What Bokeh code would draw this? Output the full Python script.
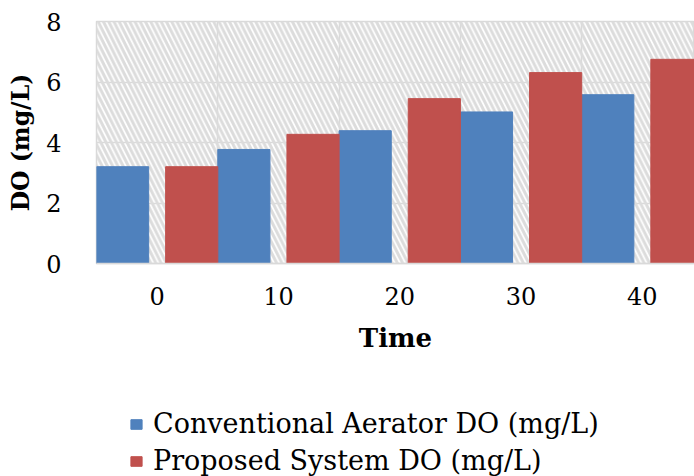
from bokeh.plotting import figure
from bokeh.layouts import column
from bokeh.models import (ColumnDataSource, Range1d, FixedTicker, BoxAnnotation,
                          Legend, LegendItem)
from bokeh.transform import dodge
from bokeh.embed import file_html
from bokeh.resources import INLINE

# ---- data ----
times = ["0", "10", "20", "30", "40"]
conventional = [3.2, 3.77, 4.39, 5.01, 5.58]
proposed = [3.2, 4.27, 5.45, 6.31, 6.75]
y_ticks = [0, 2, 4, 6, 8]
series_names = ["Conventional Aerator DO (mg/L)", "Proposed System DO (mg/L)"]
colors = ["#4f81bd", "#c0504d"]

idx = list(range(len(times)))
src = ColumnDataSource(dict(x=idx, conv=conventional, prop=proposed))

MAIN_H = 380
p = figure(width=694, height=MAIN_H, output_backend="svg", toolbar_location=None,
           x_range=Range1d(-0.5, 4.43), y_range=Range1d(0, 8),
           min_border_left=96, min_border_top=21, min_border_bottom=MAIN_H - 263,
           min_border_right=0)

# hatched plot area background
bg = BoxAnnotation(fill_alpha=0, line_alpha=0, hatch_pattern="left_diagonal_line",
                   hatch_color="#dcdcdc", hatch_scale=10.5, hatch_weight=3, level="underlay")
p.add_layout(bg)

p.vbar(x=dodge('x', -0.285), top='conv', width=0.43, source=src,
       fill_color=colors[0], line_color=colors[0])
p.vbar(x=dodge('x', 0.285), top='prop', width=0.43, source=src,
       fill_color=colors[1], line_color=colors[1])

# axes
p.xaxis.ticker = FixedTicker(ticks=idx)
p.xaxis.major_label_overrides = {i: t for i, t in zip(idx, times)}
p.yaxis.ticker = FixedTicker(ticks=y_ticks)
for ax in (p.xaxis[0], p.yaxis[0]):
    ax.major_tick_line_color = None
    ax.minor_tick_line_color = None
    ax.major_label_text_font = "DejaVu Serif"
    ax.major_label_text_font_size = "24px"
    ax.major_label_text_color = "#000000"
    ax.axis_label_text_color = "#000000"
    ax.axis_label_text_font_style = "bold"
    ax.axis_label_text_font = "DejaVu Serif"
p.yaxis.axis_line_color = None
p.xaxis.axis_line_color = "#d9d9d9"
p.xaxis.axis_line_width = 1.5
p.yaxis.major_label_standoff = 29
p.xaxis.major_label_standoff = 17

p.xaxis.axis_label = "Time"
p.xaxis.axis_label_text_font_size = "26px"
p.xaxis.axis_label_standoff = 15

p.yaxis.axis_label = "DO (mg/L)"
p.yaxis.axis_label_text_font_size = "23.5px"
p.yaxis.axis_label_standoff = 8

# grids
p.xgrid.ticker = FixedTicker(ticks=[-0.5, 0.5, 1.5, 2.5, 3.5])
p.xgrid.grid_line_color = "#d9d9d9"
p.xgrid.grid_line_width = 1.5
p.ygrid.grid_line_color = "#d9d9d9"
p.ygrid.grid_line_width = 1.5
p.outline_line_color = "#d9d9d9"
p.outline_line_width = 1.5

# legend panel (separate figure below the chart)
LEG_H = 476 - MAIN_H
lf = figure(width=694, height=LEG_H, output_backend="svg", toolbar_location=None,
            x_axis_type=None, y_axis_type=None,
            x_range=Range1d(0, 1), y_range=Range1d(100, 101),
            min_border=0, outline_line_color=None)
lf.grid.visible = False
l1 = lf.vbar(x='x', top='conv', width=0.43, source=src,
             fill_color=colors[0], line_color=colors[0])
l2 = lf.vbar(x='x', top='prop', width=0.43, source=src,
             fill_color=colors[1], line_color=colors[1])
legend = Legend(items=[LegendItem(label=series_names[0], renderers=[l1]),
                       LegendItem(label=series_names[1], renderers=[l2])],
                location=(33, 0), orientation="vertical",
                label_text_font="DejaVu Serif", label_text_font_size="27px",
                label_text_color="#000000",
                glyph_width=14, glyph_height=12, label_height=26, spacing=6,
                label_standoff=10, padding=0, margin=0,
                border_line_color=None, background_fill_alpha=0)
lf.add_layout(legend)

layout = column(p, lf, spacing=0)
open("out.html", "w").write(file_html(layout, INLINE))
